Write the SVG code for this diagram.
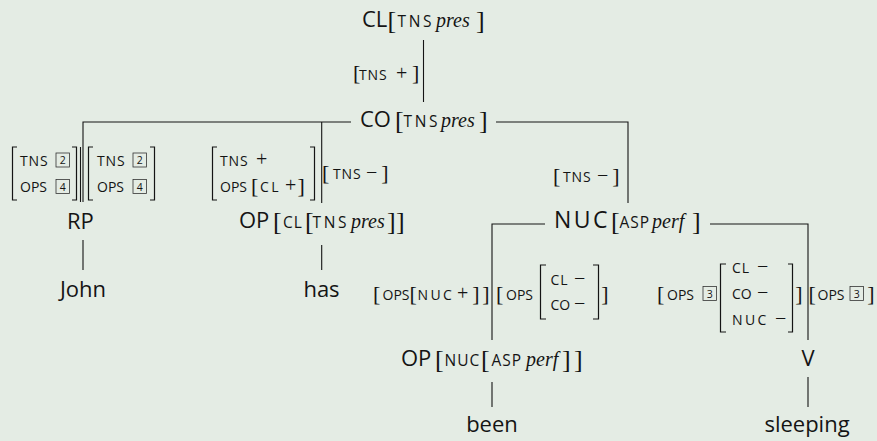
<svg xmlns="http://www.w3.org/2000/svg" width="877" height="441" viewBox="0 0 877 441">
<style>
text{fill:#141414}
.L{font-family:"Open Sans",sans-serif;font-size:22px}
.S{font-family:"Open Sans",sans-serif;font-size:15.5px;letter-spacing:1px}
.t{letter-spacing:2.6px}
.I{font-family:"Liberation Serif",serif;font-style:italic;font-size:20px}
.B{font-family:"Liberation Serif",serif;font-size:26px}
.A{font-family:"Open Sans",sans-serif;font-size:14px;letter-spacing:0.9px}
.p{letter-spacing:0px}
.n{letter-spacing:2.4px}
.Q{font-family:"Liberation Serif",serif;font-size:22px}
.O{font-family:"Liberation Serif",serif;font-size:20px}
.D{font-family:"Open Sans",sans-serif;font-size:10.5px;text-anchor:middle}
.c{text-anchor:middle}
.e{stroke:#141414;stroke-width:1.1;fill:none}
.m{stroke:#141414;stroke-width:1.2;fill:none}
.bx{fill:none;stroke:#333;stroke-width:0.8}
</style>
<rect width="877" height="441" fill="#e4ece4"/>

<g id="connectors">
<path class="e" d="M423.5,40V102"/>
<path class="e" d="M351,122H83V202M321.7,122V203"/>
<path class="e" d="M80.5,147V202"/>
<path class="e" d="M496,122H628V203"/>
<path class="e" d="M83,240V270M321.7,245V270"/>
<path class="e" d="M545,224H492V340M710,224H808V340"/>
<path class="e" d="M492,382V407M808,377V407"/>
</g>

<g id="edge-labels">
<g id="a-CL-CO">
<text class="Q" x="353" y="80">[</text><text class="A" x="359" y="80">TNS</text><text class="O" x="396" y="80">+</text><text class="Q" x="412" y="80">]</text>
</g>
<g id="a-CO-RP-left">
<path class="m" d="M17,147H12.5V200H17M72,147H76.5V200H72"/>
<text class="A" x="20" y="166">TNS</text>
<rect class="bx" x="56" y="153" width="13.5" height="14"/><text class="D" x="62.7" y="164.3">2</text>
<text class="A p" x="20" y="192">OPS</text>
<rect class="bx" x="56" y="179.5" width="13.5" height="14"/><text class="D" x="62.7" y="190.8">4</text>
</g>
<g id="a-CO-RP-right">
<path class="m" d="M93,147H88.5V200H93M150,147H154.5V200H150"/>
<text class="A" x="97" y="166">TNS</text>
<rect class="bx" x="133" y="153" width="13.5" height="14"/><text class="D" x="139.7" y="164.3">2</text>
<text class="A p" x="97" y="192">OPS</text>
<rect class="bx" x="133" y="179.5" width="13.5" height="14"/><text class="D" x="139.7" y="190.8">4</text>
</g>
<g id="a-CO-OP-left">
<path class="m" d="M217,147H212.5V200H217M310,147H314.5V200H310"/>
<text class="A" x="220" y="166">TNS</text><text class="O" x="256" y="166">+</text>
<text class="A p" x="220" y="192">OPS</text><text class="Q" x="251" y="193">[</text><text class="A n" x="260" y="192">CL</text><text class="O" x="285" y="192">+</text><text class="Q" x="297.5" y="193">]</text>
</g>
<g id="a-CO-OP-right">
<text class="Q" x="322" y="180">[</text><text class="A" x="333" y="179">TNS</text><text class="O" x="366" y="179">−</text><text class="Q" x="381.3" y="180">]</text>
</g>
<g id="a-CO-NUC">
<text class="Q" x="553" y="183">[</text><text class="A" x="563" y="182">TNS</text><text class="O" x="597" y="182">−</text><text class="Q" x="612.3" y="183">]</text>
</g>
<g id="a-NUC-OP-left">
<text class="Q" x="373" y="301">[</text><text class="A p" x="382.5" y="300">OPS</text><text class="Q" x="409.5" y="301">[</text><text class="A n" x="417.5" y="300">NUC</text><text class="O" x="457" y="300">+</text><text class="Q" x="472.3" y="301">]</text><text class="Q" x="482.3" y="301">]</text>
</g>
<g id="a-NUC-OP-right">
<text class="Q" x="496" y="301">[</text><text class="A p" x="506" y="300">OPS</text>
<path class="m" d="M546,265H540.5V319H546M593,265H598.5V319H593"/>
<text class="A" x="550.5" y="285">CL</text><text class="O" x="574" y="285">−</text>
<text class="A p" x="550.5" y="310">CO</text><text class="O" x="574" y="310">−</text>
<text class="Q" x="601.3" y="301">]</text>
</g>
<g id="a-NUC-V-left">
<text class="Q" x="657" y="301">[</text><text class="A p" x="667" y="300">OPS</text>
<rect class="bx" x="703" y="286.5" width="13.5" height="14"/><text class="D" x="709.7" y="297.8">3</text>
<path class="m" d="M726,264H720.5V332H726M788,264H792.5V332H788"/>
<text class="A" x="732" y="272.5">CL</text><text class="O" x="757" y="272.5">−</text>
<text class="A p" x="732" y="298.5">CO</text><text class="O" x="757" y="298.5">−</text>
<text class="A n" x="732" y="324.5">NUC</text><text class="O" x="775" y="324.5">−</text>
<text class="Q" x="795.3" y="301">]</text>
</g>
<g id="a-NUC-V-right">
<text class="Q" x="808.5" y="301">[</text><text class="A p" x="817.5" y="300">OPS</text>
<rect class="bx" x="850" y="286.5" width="13.5" height="14"/><text class="D" x="856.7" y="297.8">3</text>
<text class="Q" x="867.3" y="301">]</text>
</g>
</g>

<g id="n-CL">
<text class="L" x="362" y="27">CL</text><text class="B" x="387.5" y="29">[</text><text class="S t" x="397.5" y="27">TNS</text><text class="I" x="436" y="27">pres</text><text class="B" x="476" y="29">]</text>
</g>
<g id="n-CO">
<text class="L" x="360" y="127">CO</text><text class="B" x="395" y="129">[</text><text class="S t" x="403.5" y="127">TNS</text><text class="I" x="441" y="127">pres</text><text class="B" x="479" y="129">]</text>
</g>
<g id="n-RP"><text class="L" x="67" y="229">RP</text></g>
<g id="n-OP1">
<text class="L" x="239" y="228">OP</text><text class="B" x="273" y="230">[</text><text class="S" x="283" y="228">CL</text><text class="B" x="305" y="230">[</text><text class="S t" x="312.5" y="228">TNS</text><text class="I" x="351" y="228">pres</text><text class="B" x="387" y="230">]</text><text class="B" x="396" y="230">]</text>
</g>
<g id="n-NUC">
<text class="L" x="554" y="228" style="font-size:23px;letter-spacing:2.4px">NUC</text><text class="B" x="611" y="230">[</text><text class="S" x="619.5" y="228">ASP</text><text class="I" x="652" y="228">perf</text><text class="B" x="692" y="230">]</text>
</g>
<g id="n-John"><text class="L c" x="83" y="297">John</text></g>
<g id="n-has"><text class="L c" x="321.5" y="297">has</text></g>
<g id="n-OP2">
<text class="L" x="401" y="366">OP</text><text class="B" x="435" y="368">[</text><text class="S" x="444.5" y="366">NUC</text><text class="B" x="481" y="368">[</text><text class="S" x="491.5" y="366">ASP</text><text class="I" x="526" y="366">perf</text><text class="B" x="562" y="368">]</text><text class="B" x="574" y="368">]</text>
</g>
<g id="n-V"><text class="L c" x="808" y="366">V</text></g>
<g id="n-been"><text class="L c" x="492" y="432">been</text></g>
<g id="n-sleeping"><text class="L c" x="807" y="432">sleeping</text></g>
</svg>
